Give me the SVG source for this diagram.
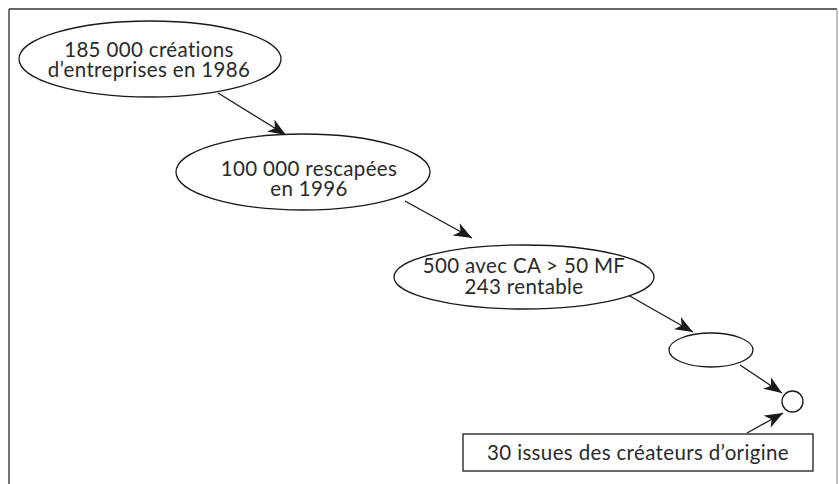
<svg xmlns="http://www.w3.org/2000/svg" width="839" height="484" viewBox="0 0 839 484">
<defs>
<style>
.n{fill:#fff;stroke:#1a1a1a;stroke-width:1.3}
.t{font-family:Lato,"Open Sans",sans-serif;font-size:20.5px;letter-spacing:0.35px;fill:#2a2a2a;text-anchor:middle;font-variant-ligatures:none}
.c{stroke:#1a1a1a;stroke-width:1.3;fill:none;marker-end:url(#ah)}
</style>
<marker id="ah" markerWidth="20" markerHeight="14" refX="18" refY="7" orient="auto" markerUnits="userSpaceOnUse">
<path d="M0,0 L18,7 L0,14 L5,7 Z" fill="#1a1a1a"/>
</marker>
</defs>
<rect width="839" height="484" fill="#fff"/>
<g id="frame">
<line x1="9" y1="9" x2="837" y2="9" stroke="#333" stroke-width="1.5"/>
<line x1="9" y1="9" x2="9" y2="484" stroke="#444" stroke-width="1.5"/>
<line x1="837" y1="9" x2="837" y2="484" stroke="#999" stroke-width="1.2"/>
</g>
<g id="connectors">
<line class="c" x1="218" y1="93" x2="286" y2="135"/>
<line class="c" x1="405" y1="201" x2="472" y2="238"/>
<line class="c" x1="628" y1="295" x2="693" y2="332"/>
<line class="c" x1="740" y1="365" x2="782" y2="393"/>
<line class="c" x1="747" y1="433" x2="783" y2="413"/>
</g>
<g id="n1"><ellipse class="n" cx="150" cy="59" rx="131" ry="38"/>
<text class="t" x="149" y="56.5">185 000 créations</text><text class="t" x="149" y="76.5">d’entreprises en 1986</text></g>
<g id="n2"><ellipse class="n" cx="303" cy="172" rx="127" ry="38"/>
<text class="t" x="309" y="176">100 000 rescapées</text><text class="t" x="309" y="196">en 1996</text></g>
<g id="n3"><ellipse class="n" cx="524" cy="277" rx="130" ry="32"/>
<text class="t" x="524" y="273">500 avec CA &gt; 50 MF</text><text class="t" x="524" y="294">243 rentable</text></g>
<g id="n4"><ellipse class="n" cx="711" cy="350" rx="42" ry="17"/></g>
<g id="n5"><circle class="n" cx="792.5" cy="401.5" r="10.5"/></g>
<g id="n6"><rect class="n" x="463" y="434" width="350" height="37"/>
<text class="t" x="638" y="460">30 issues des créateurs d’origine</text></g>
</svg>
